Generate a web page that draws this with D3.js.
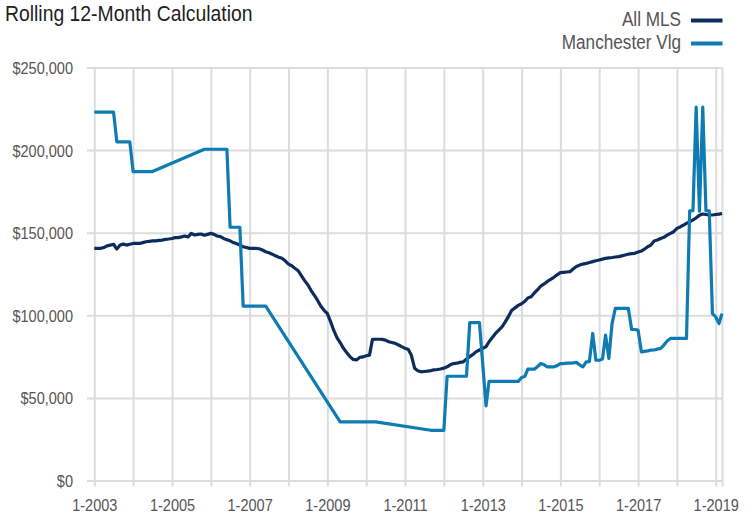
<!DOCTYPE html>
<html><head><meta charset="utf-8">
<script src="https://cdn.jsdelivr.net/npm/d3@7"></script>
<style>
html,body{margin:0;padding:0;background:#fff;}
svg text{font-family:"Liberation Sans",Arial,sans-serif;}
</style></head>
<body>
<svg id="chart" width="755" height="515"></svg>
<script>
// ---- data (monthly, starting Jan 2003) ----
const startYear = 2003;
const allMLS = [
140500,140500,140500,141000,142000,142500,143000,140100,142500,143100,
142500,143000,143500,143500,143500,144000,144500,144800,145000,145100,
145300,145500,146000,146200,146500,147000,147000,147500,148000,147400,
149600,148600,149000,149200,148400,149000,149600,149000,148000,147600,
146500,145800,145100,144000,143300,142500,141500,141000,140500,140500,
140500,140300,139500,138500,137800,137000,136000,135200,134500,133000,
131000,130000,128500,127000,124000,121000,118500,115000,112000,109000,
105500,103000,101000,96000,91000,86500,83500,80000,77500,75000,
73300,73000,74500,74800,75500,75900,85400,85500,85500,85400,
85000,84000,83500,83000,82000,81000,80000,79300,76000,68000,
66500,65800,66000,66200,66500,67000,67200,67500,68000,68800,
70000,70800,71000,71500,71800,73500,75000,76300,78000,79000,
80000,81000,84000,86500,89000,91000,93000,96000,99500,103000,
104500,106000,107000,108500,110500,111200,113500,115500,117700,119000,
120500,121700,123000,124500,125800,126000,126200,126400,128000,129500,
130400,131000,131400,132000,132500,133000,133500,134000,134500,134800,
135000,135300,135500,136000,136500,137000,137300,137500,138300,138900,
140000,141500,142500,145000,145600,146500,147200,148500,149600,150600,
152600,153500,154500,155700,156500,157700,159000,160500,161300,161000,
160700,160700,161000,161200,161700
];
const manchester = [
223000,223000,223000,223000,223000,223000,223000,
205000,205000,205000,205000,205000,
187000,187000,187000,187000,187000,187000,187000,
null,null,null,null,null,null,null,null,null,null,null,null,null,null,null,
200500,200500,200500,200500,200500,200500,200500,200500,
153300,153300,153300,153300,
105600,105600,105600,105600,105600,105600,105600,105600,
null,null,null,null,null,null,null,null,null,null,null,
null,null,null,null,null,null,null,null,null,null,null,
35500,35500,35500,35500,35500,35500,35500,35500,35500,35500,35500,35500,
null,null,null,null,null,null,null,null,null,null,null,null,null,null,null,null,
30400,30400,30400,30400,30400,
63100,63100,63100,63100,63100,63100,63100,
95600,95600,95600,95600,
null,
45200,
60000,60000,60000,60000,60000,60000,60000,60000,60000,60000,
62400,63000,67400,67400,67400,69000,70800,70000,68800,68800,
68800,69500,70800,70800,71000,71000,71200,71500,70000,68800,
71800,72000,89000,72800,72800,73500,88000,73900,95000,
104200,104200,104200,104200,104200,
91400,91400,91000,77900,78200,78500,78900,79000,79500,80000,82000,84500,
86000,86000,86000,86000,86000,86000,
163300,163300,226000,163000,226000,163300,163300,101000,99000,95000,101000
];
const seriesNames = ["All MLS", "Manchester Vlg"];
const seriesColors = ["#0c2d5c", "#0e7bb3"];
const yTicks = [0, 50000, 100000, 150000, 200000, 250000];
const xLabelYears = [2003, 2005, 2007, 2009, 2011, 2013, 2015, 2017, 2019];
const titleText = "Rolling 12-Month Calculation";

(function () {
  const svg = d3.select("#chart");
  const pl = 94.3, pr = 722, pt = 67.5, pb = 480.5;
  const dates = allMLS.map((_, i) => d3.timeMonth.offset(new Date(startYear, 0, 1), i));
  const x = d3.scaleTime().domain([dates[0], dates[dates.length - 1]]).range([pl, pr]);
  const y = d3.scaleLinear().domain([0, 250000]).range([pb, pt]);

  // y axis + horizontal grid
  const yAxis = d3.axisLeft(y).tickValues(yTicks)
    .tickFormat(d => "$" + d3.format(",")(d))
    .tickSize(-(pr - 87)).tickPadding(14);
  const gy = svg.append("g").attr("transform", "translate(87,0)").call(yAxis);
  gy.select(".domain").remove();
  gy.selectAll("line").attr("stroke", "#dcdcdc").attr("stroke-width", 2);
  gy.selectAll("text").attr("fill", "#555").attr("font-size", 16.5).attr("dy", "0.36em");

  // x axis + vertical grid
  const yearTicks = d3.range(startYear, 2020).map(yr => new Date(yr, 0, 1));
  yearTicks.push(dates[dates.length - 1]);
  const xAxis = d3.axisBottom(x).tickValues(yearTicks)
    .tickFormat(d => (d.getMonth() === 0 && xLabelYears.includes(d.getFullYear())) ? "1-" + d.getFullYear() : "")
    .tickSize(-(486.5 - pt)).tickPadding(13);
  const gx = svg.append("g").attr("transform", "translate(0,486.5)").call(xAxis);
  gx.select(".domain").remove();
  gx.selectAll("line").attr("stroke", "#dcdcdc").attr("stroke-width", 2);
  gx.selectAll("text").attr("fill", "#555").attr("font-size", 16.5);

  // lines
  const line = d3.line().x(d => x(d.date)).y(d => y(d.v));
  [allMLS, manchester].forEach((arr, k) => {
    const pts = arr.map((v, i) => ({date: dates[i], v})).filter(d => d.v != null);
    svg.append("path").datum(pts)
      .attr("fill", "none").attr("stroke", seriesColors[k])
      .attr("stroke-width", 3.2).attr("stroke-linejoin", "round")
      .attr("d", line);
  });

  // title
  svg.append("text").attr("x", 5).attr("y", 21).attr("font-size", 22)
    .attr("fill", "#1e1e1e").text(titleText);

  // legend
  const legY = [20.5, 43.5];
  seriesNames.forEach((n, k) => {
    svg.append("text").attr("x", 681).attr("y", legY[k] + 5.5)
      .attr("text-anchor", "end").attr("font-size", 19.5).attr("fill", "#555").text(n);
    svg.append("line").attr("x1", 691).attr("x2", 722.5)
      .attr("y1", legY[k]).attr("y2", legY[k])
      .attr("stroke", seriesColors[k]).attr("stroke-width", 4);
  });

  // condense all text horizontally
  svg.selectAll("text").each(function () {
    const len = this.getComputedTextLength();
    if (len > 0) {
      d3.select(this).attr("textLength", len * 0.88).attr("lengthAdjust", "spacingAndGlyphs");
    }
  });
})();
</script>
</body></html>
